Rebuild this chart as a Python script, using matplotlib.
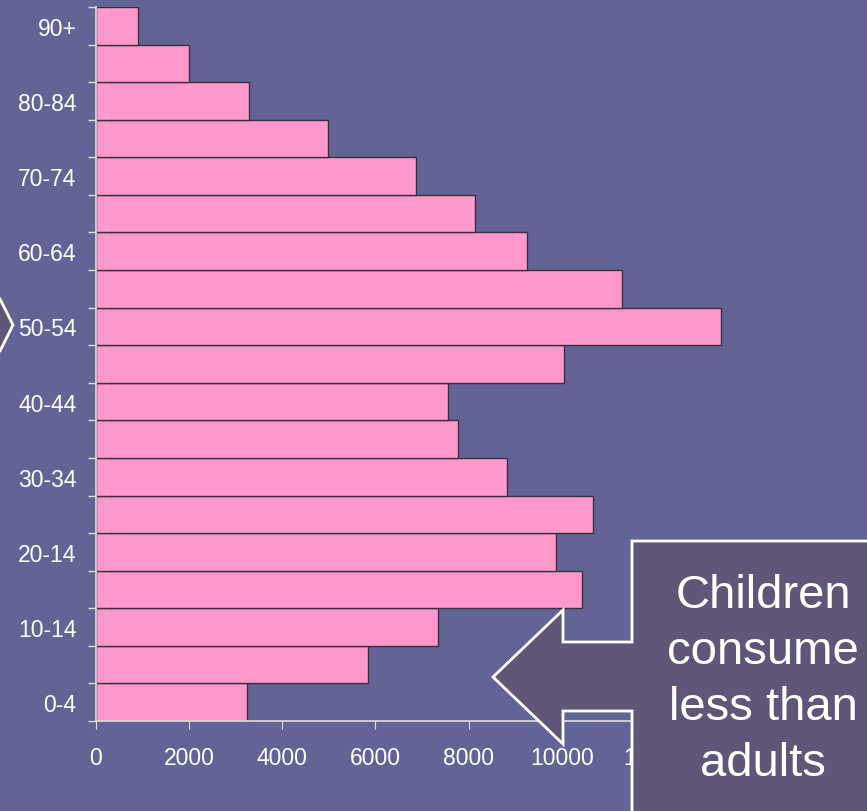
import matplotlib.pyplot as plt
from matplotlib.patches import Polygon
import numpy as np

plt.rcParams['font.family'] = ['Liberation Sans', 'DejaVu Sans']

# age groups, youngest first
ages = ["0-4", "5-9", "10-14", "15-19", "20-24", "25-29", "30-34", "35-39",
        "40-44", "45-49", "50-54", "55-59", "60-64", "65-69", "70-74",
        "75-79", "80-84", "85-89", "90+"]
consumption = [3250, 5850, 7350, 10430, 9870, 10670, 8820, 7780, 7550,
               10040, 13420, 11290, 9250, 8130, 6880, 4990, 3290, 2000, 900]
# only every other group is labelled (the "20-14" typo is on the slide)
age_labels = ["0-4", "", "10-14", "", "20-14", "", "30-34", "", "40-44", "",
              "50-54", "", "60-64", "", "70-74", "", "80-84", "", "90+"]
xticks = [0, 2000, 4000, 6000, 8000, 10000, 12000]

bg = "#636496"
callout_fill = "#5f5678"
W, H = 867, 812

fig = plt.figure(figsize=(W / 100, H / 100), dpi=100, facecolor=bg)
ax = fig.add_axes([96 / W, 1 - 722 / H, (748 - 96) / W, (722 - 8) / H])
ax.set_facecolor(bg)

y = np.arange(len(ages))
ax.barh(y, consumption, height=1.0, color="#ff99cc", edgecolor="#3a3040",
        linewidth=1.0)

ax.set_xlim(0, 14000)
ax.set_ylim(-0.5, len(ages) - 0.5)

ax.set_xticks(xticks)
ax.set_xticklabels([str(v) for v in xticks])
ax.set_yticks(y)
ax.set_yticklabels(age_labels)
ax.set_yticks(np.arange(len(ages) + 1) - 0.5, minor=True)

ax.tick_params(axis="y", which="major", length=0, pad=14, labelsize=16.5,
               labelcolor="white")
ax.tick_params(axis="y", which="minor", length=6, color="#dddddd", width=1)
ax.tick_params(axis="x", length=6, color="#dddddd", pad=12, labelsize=16.5,
               labelcolor="white")

for side in ["top", "right"]:
    ax.spines[side].set_visible(False)
for side in ["left", "bottom"]:
    ax.spines[side].set_color("#dddddd")
    ax.spines[side].set_linewidth(1.2)


def px(pts):
    return [(x / W, 1 - yy / H) for x, yy in pts]


# callout box with left-pointing arrow
callout = [(632, 542), (880, 542), (880, 830), (632, 830), (632, 712),
           (563, 712), (563, 745), (493, 678), (563, 611), (563, 643),
           (632, 643)]
fig.add_artist(Polygon(px(callout), closed=True, facecolor=callout_fill,
                       edgecolor="white", linewidth=2,
                       transform=fig.transFigure, zorder=5))
fig.text(763 / W, 1 - 680 / H, "Children\nconsume\nless than\nadults",
         ha="center", va="center", color="white", fontsize=34,
         linespacing=1.36, zorder=6)

# tip of another arrow entering from the left edge
tip = [(-10, 300), (0, 300), (13, 326), (0, 352), (-10, 352)]
fig.add_artist(Polygon(px(tip), closed=True, facecolor=callout_fill,
                       edgecolor="white", linewidth=2,
                       transform=fig.transFigure, zorder=5))

fig.savefig("out.png", dpi=100, facecolor=bg)
